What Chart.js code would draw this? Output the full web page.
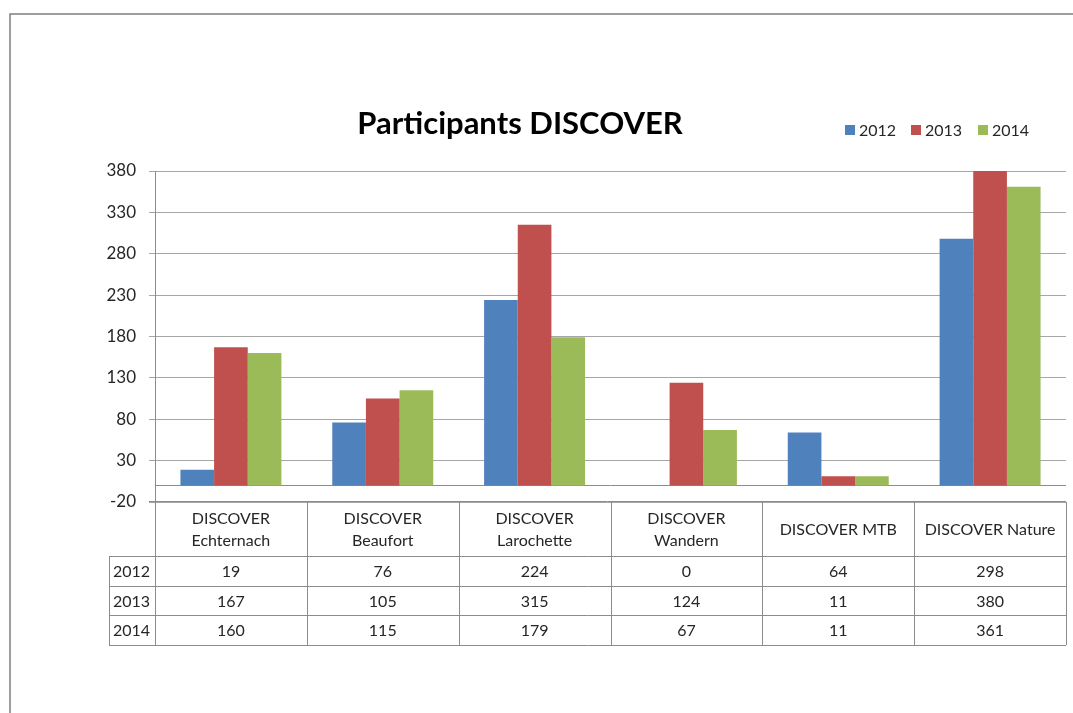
<!DOCTYPE html>
<html>
<head>
<meta charset="utf-8">
<script src="https://cdn.jsdelivr.net/npm/chart.js@4/dist/chart.umd.min.js"></script>
<style>
  html, body { margin: 0; padding: 0; background: #fff; }
  #c { display: block; }
</style>
</head>
<body>
<canvas id="c" width="1073" height="713"></canvas>
<script>
// ─── Données ─────────────────────────────────────────────────────────────────
const categories = [
  ["DISCOVER", "Echternach"],
  ["DISCOVER", "Beaufort"],
  ["DISCOVER", "Larochette"],
  ["DISCOVER", "Wandern"],
  "DISCOVER MTB",
  "DISCOVER Nature",
];
const years = ["2012", "2013", "2014"];
const values2012 = [19, 76, 224, 0, 64, 298];
const values2013 = [167, 105, 315, 124, 11, 380];
const values2014 = [160, 115, 179, 67, 11, 361];
const yTicks = [-20, 30, 80, 130, 180, 230, 280, 330, 380];

const TITLE = "Participants DISCOVER";
const COLORS = ["#4F81BD", "#C0504D", "#9BBB59"];
const FONT = "Lato, 'Liberation Sans', sans-serif";
const TEXT = "#262626";
const LINE = "#8c8c8c";
const GRID = "#a6a6a6";

Chart.defaults.font.family = FONT;
Chart.defaults.font.size = 16;
Chart.defaults.color = TEXT;

// ─── Cadre, titre, légende et tableau de données ─────────────────────────────
const decorPlugin = {
  id: "decor",
  beforeDraw(chart) {
    const ctx = chart.ctx;
    ctx.save();
    ctx.strokeStyle = "#7f7f7f";
    ctx.lineWidth = 1.5;
    ctx.beginPath();
    ctx.moveTo(10, 713);
    ctx.lineTo(10, 14);
    ctx.lineTo(1073, 14);
    ctx.stroke();
    ctx.restore();
  },
  beforeDatasetsDraw(chart) {
    // ligne de l'axe des catégories (à 0)
    const { ctx, chartArea: a, scales: { y } } = chart;
    const py = Math.round(y.getPixelForValue(0)) + 0.5;
    ctx.save();
    ctx.strokeStyle = LINE;
    ctx.lineWidth = 1;
    ctx.beginPath();
    ctx.moveTo(a.left, py);
    ctx.lineTo(a.right, py);
    ctx.stroke();
    ctx.restore();
  },
  afterDraw(chart) {
    const { ctx, chartArea: a, scales: { x, y } } = chart;
    ctx.save();

    // titre
    ctx.fillStyle = "#000";
    ctx.font = "bold 31px " + FONT;
    ctx.textAlign = "center";
    ctx.textBaseline = "middle";
    ctx.fillText(TITLE, 520, 124);

    // légende
    ctx.font = "16px " + FONT;
    ctx.textAlign = "left";
    const legX = [845, 911, 978];
    chart.data.datasets.forEach((ds, i) => {
      ctx.fillStyle = ds.backgroundColor;
      ctx.fillRect(legX[i], 125, 10, 10);
      ctx.fillStyle = TEXT;
      ctx.fillText(ds.label, legX[i] + 14, 131);
    });

    // tableau de données
    const n = chart.data.labels.length;
    const w = (a.right - a.left) / n;
    const headTop = a.bottom;
    const headBot = headTop + 54;
    const rowH = 29.7;
    const tableBot = headBot + rowH * years.length;
    const leftCol = 109;
    const px = (v) => Math.round(v) + 0.5;

    // quadrillage à -20 (haut du tableau)
    const yMin = Math.round(y.getPixelForValue(yTicks[0])) - 0.5;
    ctx.strokeStyle = LINE;
    ctx.lineWidth = 1;
    ctx.beginPath();
    ctx.moveTo(a.left - 6, yMin);
    ctx.lineTo(a.right, yMin);
    ctx.stroke();

    ctx.beginPath();
    // verticales
    for (let i = 0; i <= n; i++) {
      const xx = i < n ? x.getPixelForValue(i) - w / 2 : x.getPixelForValue(n - 1) + w / 2;
      ctx.moveTo(px(xx), headTop);
      ctx.lineTo(px(xx), tableBot);
    }
    ctx.moveTo(px(leftCol), headBot);
    ctx.lineTo(px(leftCol), tableBot);
    // horizontales
    for (let r = 0; r <= years.length; r++) {
      const yy = px(headBot + r * rowH);
      ctx.moveTo(leftCol, yy);
      ctx.lineTo(a.right, yy);
    }
    ctx.stroke();

    // en-têtes
    ctx.fillStyle = TEXT;
    ctx.font = "16px " + FONT;
    ctx.textAlign = "center";
    ctx.textBaseline = "middle";
    chart.data.labels.forEach((lab, i) => {
      const cx = x.getPixelForValue(i);
      const lines = Array.isArray(lab) ? lab : [lab];
      const mid = (headTop + headBot) / 2 + 1;
      lines.forEach((ln, k) => {
        ctx.fillText(ln, cx, mid + (k - (lines.length - 1) / 2) * 22);
      });
    });

    // lignes de valeurs
    chart.data.datasets.forEach((ds, r) => {
      const cy = headBot + r * rowH + rowH / 2 + 1;
      ctx.textAlign = "left";
      ctx.fillText(ds.label, leftCol + 4, cy);
      ctx.textAlign = "center";
      ds.data.forEach((v, i) => {
        ctx.fillText(String(v), x.getPixelForValue(i), cy);
      });
    });

    ctx.restore();
  },
};

const ctx = document.getElementById("c").getContext("2d");
new Chart(ctx, {
  type: "bar",
  data: {
    labels: categories,
    datasets: [values2012, values2013, values2014].map((vals, i) => ({
      label: years[i],
      data: vals,
      backgroundColor: COLORS[i],
      borderWidth: 0,
      barPercentage: 1,
      categoryPercentage: 0.665,
    })),
  },
  options: {
    responsive: false,
    animation: false,
    layout: { padding: { left: 0, top: 171, right: 7, bottom: 211 } },
    plugins: {
      legend: { display: false },
      title: { display: false },
      tooltip: { enabled: false },
    },
    scales: {
      x: { display: false },
      y: {
        min: -20,
        max: 380,
        afterFit: (s) => { s.width = 155; },
        afterBuildTicks: (s) => { s.ticks = yTicks.map((v) => ({ value: v })); },
        ticks: { padding: 13, color: TEXT, font: { size: 17 } },
        grid: { color: GRID, tickLength: 6, lineWidth: 1 },
        border: { display: true, color: LINE },
      },
    },
  },
  plugins: [decorPlugin],
});
</script>
</body>
</html>
